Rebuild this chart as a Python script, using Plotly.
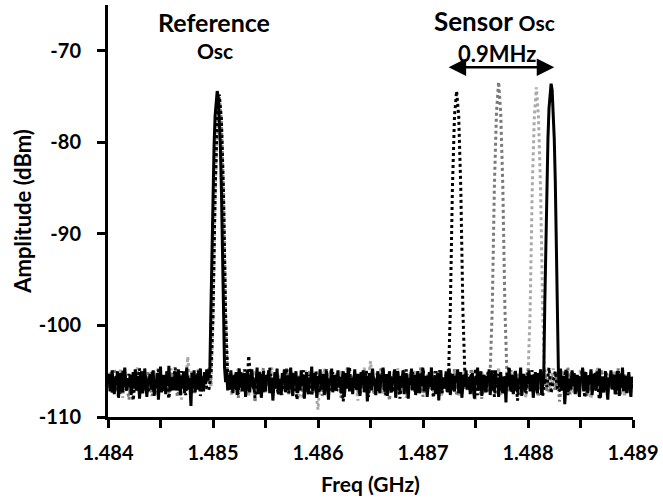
import plotly.graph_objects as go

# ---------------- data ----------------
F_START = 1.484          # GHz
STEP_SOLID = 0.00001     # GHz per sample (solid trace)
STEP_DOTTED = 0.00002    # GHz per sample (dotted traces)

# final measurement (solid black): reference osc + sensor osc at 1.48822 GHz
amp_solid = [
    -106.1,-105.3,-107.2,-106.0,-104.9,-106.8,-107.5,-105.6,-106.3,-105.0,-107.9,-106.4,-105.2,-106.9,-107.3,-105.7,-104.6,-106.5,-107.0,-105.9,
    -106.7,-105.4,-107.6,-106.2,-105.1,-106.9,-104.8,-107.1,-106.0,-105.5,-108.0,-106.3,-105.0,-107.4,-106.6,-104.7,-106.1,-107.8,-105.8,-106.4,
    -105.3,-107.0,-106.2,-104.9,-107.7,-105.9,-106.5,-105.2,-108.1,-106.0,-104.5,-107.3,-106.8,-105.4,-106.1,-107.5,-105.0,-106.6,-104.4,-107.2,
    -106.3,-105.6,-107.1,-106.0,-105.1,-107.1,-106.7,-104.8,-106.2,-107.6,-105.5,-106.9,-105.0,-107.4,-106.1,-104.6,-107.0,-105.8,-106.5,-108.8,
    -105.2,-106.8,-104.9,-107.3,-106.0,-105.4,-107.0,-106.3,-104.7,-106.9,-105.6,-107.2,-105.1,-106.4,-104.8,-106.0,-105.5,-104.9,-98.4,-91.1,
    -85.1,-80.4,-77.1,-75.1,-74.4,-75.1,-77.1,-80.4,-85.1,-91.1,-98.4,-104.6,-106.2,-105.0,-107.1,-105.8,-106.7,-104.9,-106.3,-107.4,
    -105.5,-106.9,-105.1,-107.6,-106.2,-104.7,-106.8,-105.4,-107.2,-106.0,-105.2,-107.8,-106.4,-105.0,-106.7,-107.3,-105.6,-104.8,-106.5,-107.0,
    -105.9,-106.3,-104.6,-107.5,-106.1,-105.3,-107.9,-106.6,-105.0,-106.8,-107.2,-105.4,-106.0,-104.9,-107.4,-106.2,-105.7,-108.2,-106.3,-105.1,
    -106.9,-104.7,-107.1,-105.8,-106.4,-107.6,-105.2,-106.0,-104.8,-107.3,-106.5,-105.5,-107.0,-106.1,-104.6,-106.8,-107.7,-105.3,-106.2,-105.0,
    -107.4,-106.0,-105.6,-107.1,-104.9,-106.6,-105.4,-108.0,-106.2,-105.1,-106.9,-107.5,-105.7,-106.3,-104.5,-107.2,-106.0,-105.2,-106.8,-107.9,
    -105.5,-106.4,-104.8,-107.0,-106.1,-105.3,-107.6,-106.7,-105.0,-106.2,-108.1,-105.8,-106.5,-104.7,-107.3,-106.0,-105.4,-107.1,-106.3,-104.9,
    -106.8,-105.6,-107.4,-106.1,-105.0,-107.8,-106.4,-105.2,-106.9,-104.6,-107.2,-106.0,-105.7,-107.5,-106.3,-104.8,-106.6,-107.0,-105.3,-106.2,
    -107.7,-105.1,-106.5,-104.9,-107.3,-106.0,-105.5,-108.3,-106.7,-105.2,-106.1,-107.1,-104.7,-106.4,-105.8,-107.6,-106.2,-105.0,-106.9,-107.4,
    -105.4,-106.3,-104.6,-107.0,-106.6,-105.3,-107.7,-106.0,-105.1,-106.8,-107.3,-105.6,-106.2,-104.8,-107.9,-106.4,-105.0,-106.7,-107.2,-105.5,
    -106.1,-104.9,-107.5,-106.3,-105.2,-106.9,-108.0,-105.7,-106.5,-104.7,-107.1,-106.0,-105.4,-107.6,-106.2,-105.0,-106.8,-107.4,-105.3,-106.6,
    -104.8,-107.2,-106.1,-105.5,-107.8,-106.4,-105.1,-106.7,-104.6,-107.0,-106.3,-105.6,-107.5,-106.0,-105.2,-108.2,-106.5,-104.9,-107.1,-106.2,
    -105.7,-106.9,-105.0,-107.3,-106.1,-104.7,-107.6,-106.4,-105.3,-106.8,-107.2,-105.5,-106.0,-104.8,-107.4,-106.6,-105.1,-107.9,-106.3,-105.4,
    -106.7,-104.9,-107.0,-106.2,-105.6,-107.5,-106.0,-105.2,-106.9,-108.0,-105.8,-106.4,-104.6,-107.1,-106.5,-105.0,-107.7,-106.1,-105.4,-106.8,
    -107.3,-105.5,-106.3,-104.8,-107.6,-106.0,-105.3,-106.7,-107.2,-104.9,-106.4,-105.7,-107.8,-106.2,-105.1,-106.9,-107.4,-105.6,-106.0,-108.4,
    -105.2,-106.6,-104.7,-107.1,-106.3,-105.4,-107.5,-106.0,-105.0,-106.8,-107.3,-105.8,-106.2,-104.6,-107.7,-106.5,-105.3,-106.9,-107.0,-105.5,
    -106.4,-104.9,-107.2,-106.1,-105.6,-107.9,-106.3,-105.1,-106.7,-107.4,-105.2,-106.0,-104.8,-107.6,-106.5,-105.7,-97.6,-90.3,-84.3,-79.6,
    -76.3,-74.3,-73.6,-74.3,-76.3,-79.6,-84.3,-90.3,-97.6,-105.3,-106.8,-104.7,-107.1,-106.2,-105.5,-108.6,-106.0,-105.0,-107.3,-106.4,
    -105.8,-107.0,-104.9,-106.6,-105.2,-107.5,-106.1,-105.4,-106.9,-107.8,-105.6,-106.3,-104.6,-107.2,-106.0,-105.1,-106.7,-107.4,-105.5,-106.2,
    -104.8,-107.6,-106.4,-105.3,-106.8,-107.1,-105.0,-106.5,-104.7,-107.9,-106.2,-105.6,-107.3,-106.0,-105.2,-106.9,-108.1,-105.7,-106.3,-104.9,
    -107.0,-106.1,-105.4,-107.5,-106.6,-105.0,-106.2,-107.7,-105.3,-106.8,-104.6,-107.2,-106.4,-105.5,-107.4,-106.0,-105.1,-106.7,-107.8,-105.6,
    -106.3,
]

# dotted black: sensor osc at 1.48732 GHz
amp_dot_black = [
    -106.4,-105.2,-107.3,-106.0,-105.5,-107.8,-106.2,-104.9,-106.7,-107.1,-105.3,-106.5,-108.2,-105.8,-106.1,-104.7,-107.0,-106.3,-105.6,-107.4,
    -106.0,-105.1,-107.5,-106.6,-104.8,-106.9,-107.2,-105.4,-106.2,-108.0,-105.7,-106.4,-104.6,-107.1,-106.8,-105.0,-106.3,-107.6,-105.5,-106.1,
    -107.3,-105.9,-106.5,-104.9,-107.7,-106.0,-105.3,-106.8,-107.1,-105.2,-98.8,-85.5,-77.5,-74.8,-77.5,-85.5,-98.8,-105.6,-107.0,-106.2,
    -105.4,-106.9,-107.5,-105.1,-106.3,-104.8,-107.2,-103.3,-106.0,-105.5,-107.9,-106.4,-105.0,-106.7,-107.3,-105.7,-106.1,-104.6,-107.0,-106.5,
    -105.3,-107.6,-106.2,-105.8,-106.9,-104.7,-107.4,-106.0,-105.2,-106.6,-108.1,-105.9,-106.3,-104.9,-107.1,-106.7,-105.4,-107.7,-106.1,-105.0,
    -106.8,-107.3,-105.6,-106.2,-104.8,-107.5,-106.4,-105.1,-106.9,-107.0,-105.5,-106.0,-108.3,-105.8,-106.5,-104.6,-107.2,-106.1,-105.3,-106.7,
    -107.4,-105.7,-106.3,-104.9,-107.8,-106.0,-105.2,-106.6,-107.1,-105.4,-106.2,-104.7,-107.6,-106.8,-105.0,-106.4,-107.3,-105.9,-106.1,-108.0,
    -105.6,-106.9,-104.8,-107.2,-106.3,-105.1,-106.7,-107.5,-105.3,-106.0,-104.6,-107.0,-106.5,-105.7,-106.2,-107.9,-105.0,-106.6,-104.9,-107.4,
    -106.1,-105.4,-106.8,-98.4,-85.1,-77.1,-74.4,-77.1,-85.1,-98.4,-105.8,-106.3,-107.1,-105.2,-106.9,-104.7,-107.6,-106.0,-105.5,-106.4,
    -107.2,-105.0,-106.6,-104.8,-107.8,-106.2,-105.3,-106.9,-107.0,-105.6,-106.1,-104.5,-107.3,-106.4,-105.1,-108.2,-106.0,-105.7,-106.8,-107.5,
    -105.2,-106.3,-104.9,-107.1,-106.5,-105.4,-106.0,-107.7,-105.8,-106.7,-104.6,-107.4,-106.1,-105.0,-106.9,-107.2,-105.5,-106.2,-104.8,-107.6,
    -106.3,-105.1,-106.8,-107.3,-105.6,-106.0,-104.7,-107.9,-106.4,-105.3,-106.6,-107.0,-105.2,-106.1,-108.1,-105.9,-106.5,-104.9,-107.2,-106.0,
    -105.4,-106.7,-107.5,-105.0,-106.2,-104.8,-107.1,-106.4,-105.7,-106.9,-106.3,
]

# dotted dark grey: sensor osc at 1.48772 GHz
amp_dot_dark = [
    -105.8,-107.1,-106.3,-104.7,-106.9,-105.4,-107.6,-106.0,-105.2,-106.6,-108.1,-105.7,-106.4,-104.9,-107.3,-106.1,-105.5,-107.0,-106.8,-105.1,
    -106.5,-107.7,-105.3,-106.2,-104.6,-107.2,-106.0,-105.6,-106.9,-107.4,-105.0,-106.3,-104.8,-107.8,-106.6,-105.2,-106.1,-107.1,-105.9,-106.4,
    -104.9,-107.5,-106.2,-105.3,-106.8,-107.0,-105.5,-106.1,-104.7,-106.4,-99.0,-85.7,-77.7,-75.0,-77.7,-85.7,-99.0,-106.5,-105.2,-107.3,
    -106.0,-105.4,-107.9,-106.7,-105.1,-106.3,-104.8,-107.2,-106.5,-105.7,-108.4,-106.1,-105.3,-106.9,-104.6,-107.0,-106.2,-105.5,-107.6,-106.4,
    -105.0,-106.8,-107.3,-105.6,-106.1,-104.7,-107.5,-106.3,-105.2,-106.7,-107.1,-105.4,-106.0,-108.0,-105.8,-106.5,-104.9,-107.4,-106.2,-105.1,
    -106.9,-105.5,-107.7,-106.0,-105.3,-106.6,-104.8,-107.2,-106.4,-105.7,-106.1,-107.9,-105.0,-106.3,-104.6,-107.0,-106.8,-105.4,-106.2,-107.4,
    -105.6,-106.0,-104.9,-107.3,-106.5,-105.2,-106.9,-107.6,-105.8,-106.1,-104.7,-107.1,-106.3,-105.5,-108.2,-106.0,-105.3,-106.7,-107.0,-105.9,
    -106.4,-104.8,-107.5,-106.2,-105.1,-106.8,-107.2,-105.6,-106.0,-104.6,-107.8,-106.3,-105.4,-106.9,-107.1,-105.0,-106.5,-104.9,-107.4,-106.1,
    -105.7,-106.6,-107.3,-105.2,-106.0,-104.8,-107.7,-106.4,-105.5,-106.2,-107.0,-105.3,-106.8,-104.7,-107.5,-106.1,-105.8,-106.9,-108.0,-105.4,
    -106.3,-107.2,-105.0,-98.0,-84.7,-76.7,-73.4,-76.7,-84.7,-98.0,-105.6,-106.7,-104.9,-107.4,-106.1,-105.3,-106.8,-107.6,-105.5,-106.0,
    -104.7,-107.1,-106.4,-105.2,-106.9,-107.8,-105.7,-106.2,-104.8,-107.3,-106.0,-105.4,-106.6,-107.0,-105.1,-108.3,-106.5,-105.8,-106.1,-104.6,
    -107.5,-106.2,-105.3,-106.8,-107.2,-105.6,-106.0,-104.9,-107.7,-106.4,-105.0,-106.7,-107.1,-105.5,-106.3,-104.8,-107.4,-106.1,-105.9,-106.6,
    -107.0,-105.2,-106.5,-104.7,-107.6,-106.0,-105.4,-106.9,-107.3,-105.7,-106.2,
]

# dotted light grey: sensor osc at 1.48808 GHz
amp_dot_light = [
    -106.2,-105.0,-107.4,-106.7,-105.5,-106.1,-104.8,-107.9,-106.3,-105.3,-106.9,-107.2,-105.7,-106.0,-104.6,-107.5,-106.4,-105.1,-106.8,-107.1,
    -105.4,-106.5,-104.9,-107.7,-106.2,-105.6,-106.9,-107.3,-105.0,-106.4,-104.7,-107.0,-106.1,-105.5,-106.7,-108.1,-105.8,-106.3,-103.4,-106.6,
    -105.2,-107.4,-106.0,-104.8,-106.7,-105.5,-107.1,-106.3,-105.0,-106.8,-99.2,-85.9,-77.9,-75.2,-77.9,-85.9,-99.2,-105.9,-106.4,-107.6,
    -105.3,-106.1,-104.7,-107.2,-106.5,-105.8,-106.0,-107.8,-105.4,-106.9,-104.9,-107.3,-106.2,-105.1,-106.6,-107.5,-105.7,-106.3,-104.6,-107.0,
    -106.4,-105.2,-106.8,-107.6,-105.5,-106.0,-104.8,-107.4,-106.7,-105.3,-106.1,-108.0,-105.6,-106.5,-104.9,-107.1,-106.2,-105.0,-106.9,-107.3,
    -109.2,-105.8,-106.3,-104.7,-107.5,-106.0,-105.4,-106.8,-107.2,-105.1,-106.6,-104.9,-107.7,-106.1,-105.7,-106.4,-107.0,-105.3,-106.2,-108.2,
    -105.5,-106.9,-104.6,-107.3,-106.0,-103.9,-106.7,-107.1,-105.2,-106.3,-104.8,-107.6,-106.4,-105.6,-106.1,-107.4,-105.0,-106.8,-104.7,-107.2,
    -106.2,-105.3,-107.9,-106.5,-105.1,-106.0,-104.9,-107.0,-106.7,-105.4,-106.3,-107.5,-105.8,-106.1,-104.6,-107.3,-106.9,-105.2,-106.4,-107.7,
    -105.6,-106.0,-104.8,-107.2,-106.6,-105.0,-106.3,-107.8,-105.5,-106.9,-104.7,-107.1,-106.2,-105.7,-106.5,-108.1,-105.3,-106.0,-104.9,-107.4,
    -106.1,-105.4,-106.8,-107.0,-105.2,-106.4,-104.6,-107.6,-106.3,-105.8,-106.7,-107.2,-105.1,-106.0,-104.8,-107.5,-106.5,-105.6,-106.2,-107.9,
    -105.7,-98.6,-85.3,-77.3,-74.0,-77.3,-85.3,-98.6,-106.6,-105.3,-107.3,-106.0,-104.7,-106.8,-107.1,-105.5,-106.2,-104.9,-107.6,-106.4,
    -105.0,-106.7,-107.4,-105.8,-106.1,-104.8,-107.0,-106.5,-105.3,-106.9,-108.0,-105.6,-106.2,-104.6,-107.2,-106.0,-105.4,-106.8,-107.5,-105.1,
    -106.3,-104.9,-107.1,-106.6,-105.7,-106.0,-107.8,-105.2,-106.4,-105.9,-106.5,
]

assert len(amp_solid) == 501, len(amp_solid)
for a in (amp_dot_black, amp_dot_dark, amp_dot_light):
    assert len(a) == 251, len(a)

x_tick_vals = [1.484, 1.485, 1.486, 1.487, 1.488, 1.489]
x_tick_text = ["1.484", "1.485", "1.486", "1.487", "1.488", "1.489"]
x_minor_vals = [1.4845, 1.4855, 1.4865, 1.4875, 1.4885]
y_tick_vals = [-110, -100, -90, -80, -70]
y_tick_text = ["-110", "-100", "-90", "-80", "-70"]

arrow_left = 1.48723
arrow_right = 1.48825

FONT = "Lato, 'Open Sans', sans-serif"

freq_solid = [round(F_START + STEP_SOLID * i, 6) for i in range(len(amp_solid))]
freq_dot = [round(F_START + STEP_DOTTED * i, 6) for i in range(len(amp_dot_black))]

fig = go.Figure()
fig.add_trace(go.Scatter(x=freq_dot, y=amp_dot_light, mode="lines",
                         line=dict(color="#a9a9a9", width=3, dash="dot"), showlegend=False))
fig.add_trace(go.Scatter(x=freq_dot, y=amp_dot_dark, mode="lines",
                         line=dict(color="#7a7a7a", width=3, dash="dot"), showlegend=False))
fig.add_trace(go.Scatter(x=freq_dot, y=amp_dot_black, mode="lines",
                         line=dict(color="#000000", width=3, dash="dot"), showlegend=False))
fig.add_trace(go.Scatter(x=freq_solid, y=amp_solid, mode="lines",
                         line=dict(color="#000000", width=3), showlegend=False))

bold = dict(family=FONT, color="black", weight="bold")

fig.update_layout(
    width=663, height=502,
    margin=dict(l=108, r=30, t=5, b=85, autoexpand=False),
    paper_bgcolor="white", plot_bgcolor="white",
    font=dict(family=FONT, color="black"),
    xaxis=dict(
        range=[1.484, 1.489], tickvals=x_tick_vals, ticktext=x_tick_text,
        ticks="outside", ticklen=8, tickwidth=3, tickcolor="black",
        showline=True, linewidth=3, linecolor="black",
        showgrid=False, zeroline=False, automargin=False,
        minor=dict(tickvals=x_minor_vals,
                   ticks="outside", ticklen=8, tickwidth=3, tickcolor="black", showgrid=False),
        tickfont=dict(size=20, **bold),
        ticklabelstandoff=8,
        title=dict(text="Freq (GHz)", font=dict(size=21, **bold), standoff=15),
    ),
    yaxis=dict(
        range=[-110, -65], tickvals=y_tick_vals, ticktext=y_tick_text,
        ticks="outside", ticklen=8, tickwidth=3, tickcolor="black",
        showline=True, linewidth=3, linecolor="black",
        showgrid=False, zeroline=False, automargin=False,
        tickfont=dict(size=20, **bold),
        ticklabelstandoff=12,
        title=dict(text="Amplitude (dBm)", font=dict(size=22, **bold), standoff=2),
    ),
)

fig.add_annotation(x=1.48501, y=-66.9, xref="x", yref="y", text="Reference",
                   showarrow=False, font=dict(size=25, **bold))
fig.add_annotation(x=1.48502, y=-70.0, xref="x", yref="y", text="Osc",
                   showarrow=False, font=dict(size=21, **bold))
fig.add_annotation(x=1.48768, y=-66.7, xref="x", yref="y",
                   text="Sensor <span style='font-size:21px'>Osc</span>",
                   showarrow=False, font=dict(size=26, **bold))
fig.add_annotation(x=1.48770, y=-70.3, xref="x", yref="y", text="0.9MHz",
                   showarrow=False, font=dict(size=22, **bold))
fig.add_annotation(x=arrow_right, y=-71.8, ax=arrow_left, ay=-71.8,
                   xref="x", yref="y", axref="x", ayref="y", text="",
                   showarrow=True, arrowhead=2, arrowside="end+start",
                   arrowwidth=2.5, arrowsize=1.4, arrowcolor="black")

fig.write_html("out.html", config={"displayModeBar": False},
               post_script="document.body.style.margin='0';")
